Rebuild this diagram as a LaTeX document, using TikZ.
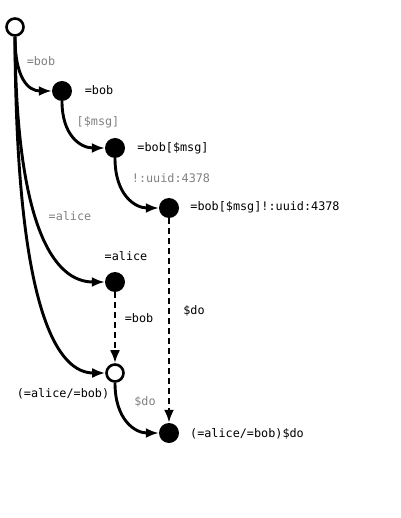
\documentclass[tikz,border=0pt]{standalone}
\usepackage{fontspec}
\setmonofont{DejaVu Sans Mono}
\usetikzlibrary{arrows.meta}
\begin{document}
\begin{tikzpicture}[x=1pt,y=-1pt,
  every node/.style={font=\ttfamily\fontsize{11.8}{13}\selectfont},
  opennode/.style={circle, draw=black, line width=2.6pt, fill=white, minimum size=17pt, inner sep=0pt},
  fullnode/.style={circle, fill=black, minimum size=20pt, inner sep=0pt},
  edgeline/.style={line width=2.9pt, -{Latex[length=13pt,width=10pt]}},
  dashline/.style={edgeline, dash pattern=on 6pt off 4pt},
  glabel/.style={text=black!50},
  blabel/.style={text=black}]
\useasboundingbox (0,0) rectangle (400,518);
\node[opennode] (root) at (15,27) {};
\node[fullnode] (n1) at (62,91) {};
\node[fullnode] (n2) at (115,148) {};
\node[fullnode] (n3) at (169,208) {};
\node[fullnode] (alice) at (115,282) {};
\node[opennode] (alt) at (115,373) {};
\node[fullnode] (fin) at (169,433) {};

\draw[edgeline] (root.south) .. controls (15,78) and (28,91) .. (n1.west);
\draw[edgeline] (root.south) .. controls (16,230) and (55,282) .. (alice.west);
\draw[edgeline] (root.south) .. controls (16,320) and (60,373) .. (alt.west);
\draw[edgeline] (n1.south) .. controls (62,135) and (80,148) .. (n2.west);
\draw[edgeline] (n2.south) .. controls (115,195) and (135,208) .. (n3.west);
\draw[edgeline] (alt.south) .. controls (115,420) and (135,433) .. (fin.west);
\draw[dashline] (n3.south) -- (fin.north);
\draw[dashline] (alice.south) -- (alt.north);

\node[glabel] (l1) at (41,61) {=bob};
\node[blabel] (t1) at (99,90) {=bob};
\node[glabel] (l2) at (98,122) {[\$msg]};
\node[blabel] (t2) at (173,148) {=bob[\$msg]};
\node[glabel] (l3) at (171,178) {!:uuid:4378};
\node[blabel] (t3) at (265,207) {=bob[\$msg]!:uuid:4378};
\node[glabel] (l4) at (70,216) {=alice};
\node[blabel] (t4) at (126,256) {=alice};
\node[blabel] (l5) at (139,318) {=bob};
\node[blabel] (l6) at (194,311) {\$do};
\node[blabel] (t5) at (63,394) {(=alice/=bob)};
\node[glabel] (l7) at (145,402) {\$do};
\node[blabel] (t6) at (247,434) {(=alice/=bob)\$do};
\end{tikzpicture}
\end{document}
